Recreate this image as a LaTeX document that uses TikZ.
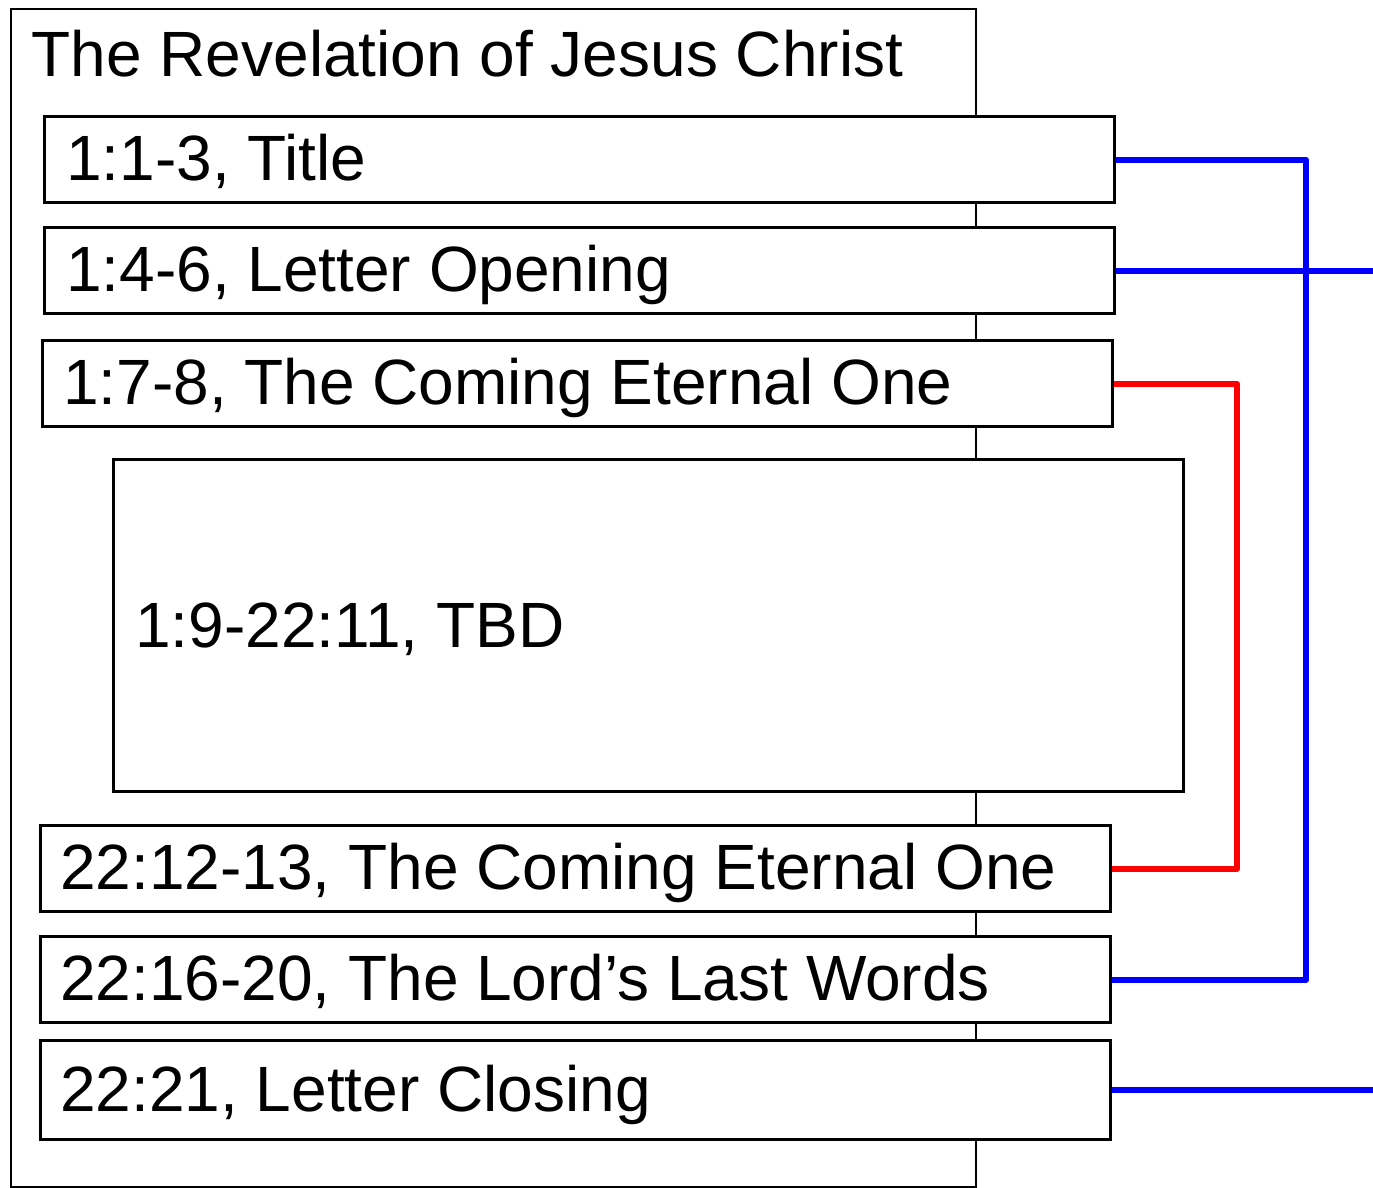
\documentclass[tikz,border=0pt]{standalone}
\usepackage{fontspec}
\setmainfont{Liberation Sans}
\begin{document}
\begin{tikzpicture}[x=1pt,y=-1pt,
  frame/.style={draw=black,line width=2pt},
  sect/.style={draw=black,fill=white,line width=3.3pt,rectangle,inner sep=0pt,anchor=north west,minimum width=1070pt,minimum height=86pt},
  lbl/.style={anchor=base west,inner sep=0pt,font=\fontsize{64}{70}\selectfont},
  link/.style={line width=6pt,line join=round},
  bluelink/.style={link,draw={rgb,255:red,0;green,0;blue,255}},
  redlink/.style={link,draw={rgb,255:red,255;green,0;blue,0}}]
\useasboundingbox (0,0) rectangle (1373,1188);
\fill[white] (0,0) rectangle (1373,1188);
% outer frame
\node[frame,rectangle,inner sep=0pt,anchor=north west,minimum width=965pt,minimum height=1178pt] (outer) at (10,8) {};
\node[anchor=base west,inner sep=0pt,font=\fontsize{64}{70}\selectfont] (ttl) at (31.5,77) {The Revelation of Jesus Christ};
% sections
\node[sect] (b1) at (43,115) {};
\node[lbl] (t1) at (66,180.5) {1:1-3, Title};
\node[sect] (b2) at (43,226) {};
\node[lbl] (t2) at (66,291) {1:4-6, Letter Opening};
\node[sect] (b3) at (41,339) {};
\node[lbl] (t3) at (63,404) {1:7-8, The Coming Eternal One};
\node[sect,line width=2.7pt,minimum height=332pt] (b4) at (112,458) {};
\node[lbl] (t4) at (135,647) {1:9-22:11, TBD};
\node[sect] (b5) at (39,824) {};
\node[lbl] (t5) at (60,889) {22:12-13, The Coming Eternal One};
\node[sect] (b6) at (39,935) {};
\node[lbl] (t6) at (60,1000) {22:16-20, The Lord’s Last Words};
\node[sect,minimum height=99pt] (b7) at (39,1039) {};
\node[lbl] (t7) at (60,1111) {22:21, Letter Closing};
% connectors
\coordinate (bluerail) at (1306,0);
\coordinate (redrail) at (1237,0);
\coordinate (e2) at (1380,269);
\coordinate (e7) at (1380,1088.5);
\draw[bluelink] (b1.east) -- (b1.east -| bluerail) |- (b6.east);
\draw[redlink] (b3.east) -- (b3.east -| redrail) |- (b5.east);
\draw[bluelink] (b2.east) -- (b2.east -| e2);
\draw[bluelink] (b7.east) -- (b7.east -| e7);
\end{tikzpicture}
\end{document}
